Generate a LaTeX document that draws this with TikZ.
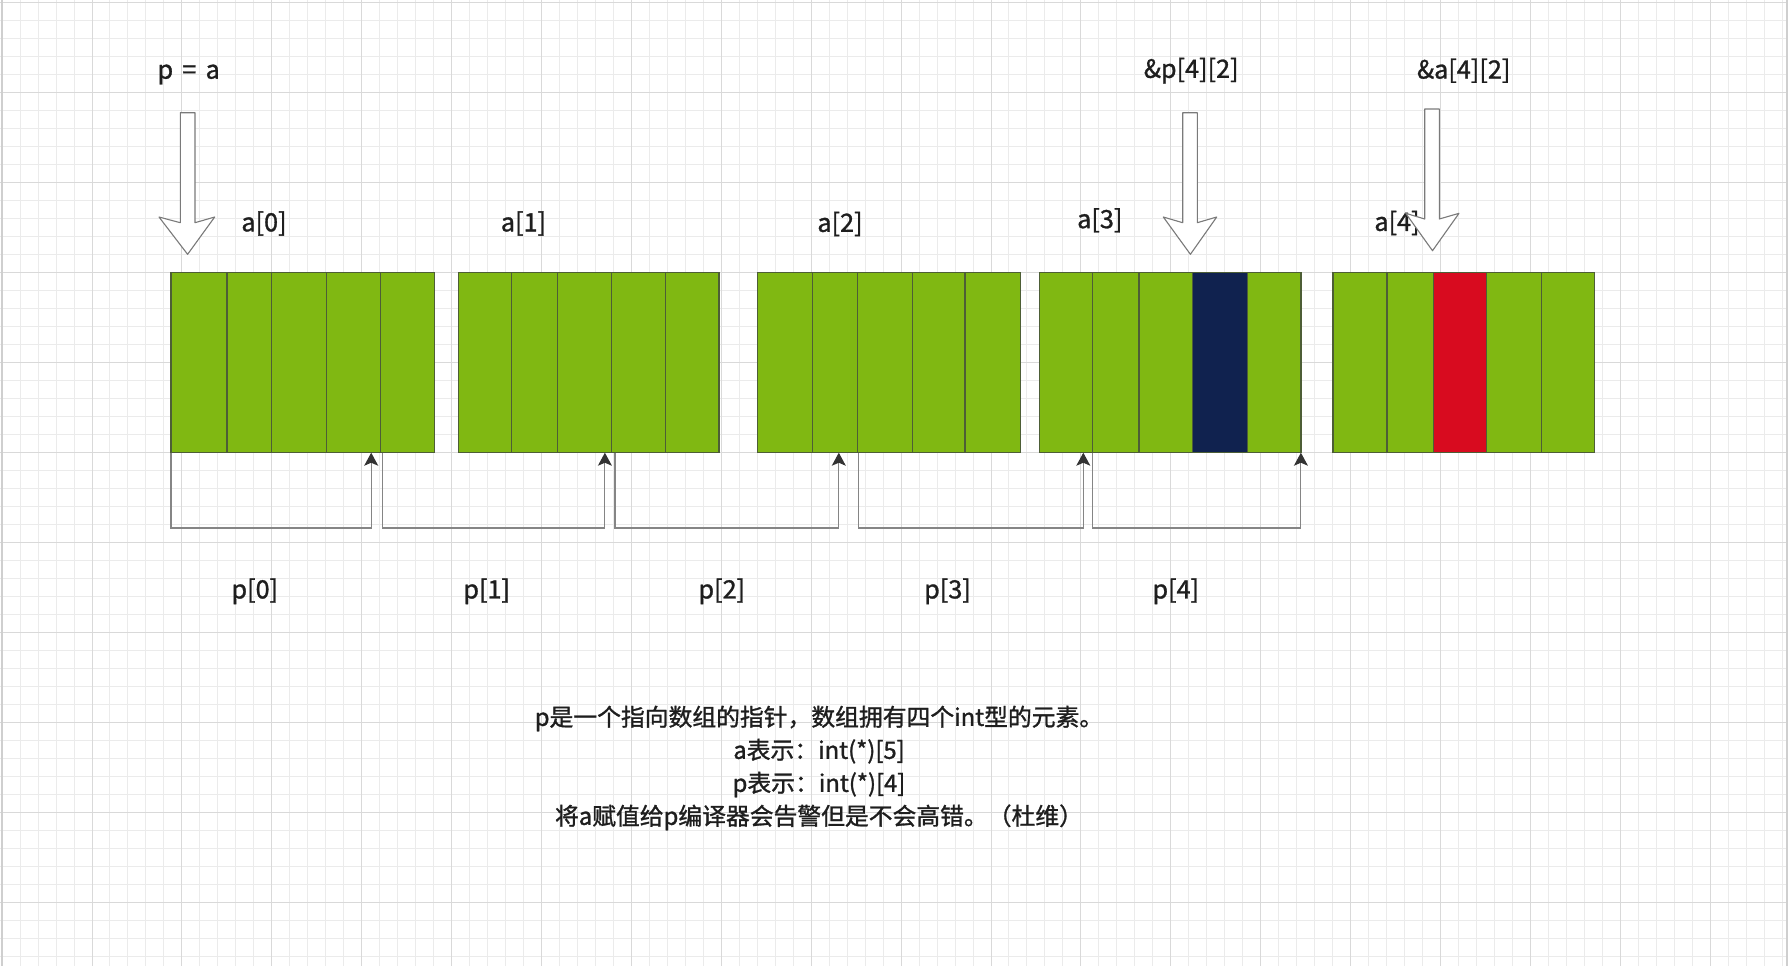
\documentclass[tikz,border=0pt]{standalone}
\usepackage{fontspec}
\setmainfont{Noto Sans CJK SC}[FakeBold=1.2]
\usetikzlibrary{arrows.meta}
\definecolor{cellgreen}{HTML}{80B812}
\definecolor{cellline}{HTML}{4D5E36}
\definecolor{navycell}{HTML}{10224F}
\definecolor{redcell}{HTML}{D80B1F}
\definecolor{gridminor}{HTML}{EBEBEB}
\definecolor{gridmajor}{HTML}{D9D9D9}
\definecolor{gridborder}{HTML}{CFCFCF}
\definecolor{connc}{HTML}{858585}
\definecolor{tipc}{HTML}{333333}
\definecolor{txt}{HTML}{1E1E1E}
\definecolor{barrowc}{HTML}{7A7A7A}
\tikzset{
  cellbox/.style={draw=cellline, line width=0.6pt, fill=cellgreen, minimum height=90.1pt,
    inner sep=0pt, outer sep=0pt, anchor=north west},
  lbl/.style={font=\fontsize{12.6}{15}\selectfont, text=txt, inner sep=0pt},
  notetext/.style={font=\fontsize{11.9}{16.5}\selectfont, text=txt, inner sep=0pt, align=center},
  conn/.style={draw=connc, line width=0.55pt, -{Stealth[length=6.5pt,width=7pt,inset=1.5pt,color=tipc]}},
  barrow/.style={draw=barrowc, fill=white, line width=0.55pt, line join=round},
  gminor/.style={draw=gridminor, line width=0.5pt},
  gmajor/.style={draw=gridmajor, line width=0.5pt}
}
\newcommand\mkcell[4]{\node[cellbox, fill=#4, minimum width={(#3-#2)*0.5pt}] (#1) at (#2,272.5) {};}
\begin{document}
\begin{tikzpicture}[x=0.5pt,y=-0.5pt]
\useasboundingbox (0,0) rectangle (1788,966);
\fill[white] (0,0) rectangle (1788,966);
% grid
\foreach \i in {0,...,99} {\pgfmathsetmacro\gx{2.1+\i*17.98}\draw[gminor] (\gx,0) -- (\gx,966);}
\foreach \i in {0,...,53} {\pgfmathsetmacro\gy{2+\i*18}\draw[gminor] (0,\gy) -- (1788,\gy);}
\foreach \i in {0,...,19} {\pgfmathsetmacro\gx{2.1+\i*89.9}\draw[gmajor] (\gx,0) -- (\gx,966);}
\foreach \i in {0,...,10} {\pgfmathsetmacro\gy{2+\i*90}\draw[gmajor] (0,\gy) -- (1788,\gy);}
\draw[draw=gridborder, line width=0.8pt] (2,0) -- (2,966);
\draw[draw=gridborder, line width=0.8pt] (1786.7,0) -- (1786.7,966);

% block a[0]
\mkcell{a0c1}{171}{226.9}{cellgreen}
\mkcell{a0c2}{226.9}{280.1}{cellgreen}
\mkcell{a0c3}{271.3}{326.8}{cellgreen}
\mkcell{a0c4}{326.8}{380.5}{cellgreen}
\mkcell{a0c5}{380.5}{434.5}{cellgreen}
% block a[1]
\mkcell{a1c1}{458.4}{511.8}{cellgreen}
\mkcell{a1c2}{511.8}{567.0}{cellgreen}
\mkcell{a1c3}{557.8}{611.5}{cellgreen}
\mkcell{a1c4}{611.5}{665.6}{cellgreen}
\mkcell{a1c5}{665.6}{719.0}{cellgreen}
% block a[2]
\mkcell{a2c1}{757.3}{812.4}{cellgreen}
\mkcell{a2c2}{812.4}{866.3}{cellgreen}
\mkcell{a2c3}{857.7}{912.8}{cellgreen}
\mkcell{a2c4}{912.8}{965.0}{cellgreen}
\mkcell{a2c5}{965.0}{1020.8}{cellgreen}
% block a[3]
\mkcell{a3c1}{1039.2}{1092.5}{cellgreen}
\mkcell{a3c2}{1092.5}{1146.5}{cellgreen}
\mkcell{a3c3}{1139.0}{1192.4}{cellgreen}
\mkcell{a3c4}{1192.4}{1247.5}{navycell}
\mkcell{a3c5}{1247.5}{1300.9}{cellgreen}
% block a[4]
\mkcell{a4c1}{1333.0}{1386.9}{cellgreen}
\mkcell{a4c2}{1386.9}{1440.3}{cellgreen}
\mkcell{a4c3}{1433.5}{1486.3}{redcell}
\mkcell{a4c4}{1486.3}{1541.4}{cellgreen}
\mkcell{a4c5}{1541.4}{1594.8}{cellgreen}

% connectors
\coordinate (base) at (0,528);
\coordinate (s1) at (171,452.7);   \coordinate (t1) at (371.2,452.7);
\coordinate (s2) at (382.6,452.7); \coordinate (t2) at (604.9,452.7);
\coordinate (s3) at (615.0,452.7); \coordinate (t3) at (838.8,452.7);
\coordinate (s4) at (858.9,452.7); \coordinate (t4) at (1083.3,452.7);
\coordinate (s5) at (1092.5,452.7);\coordinate (t5) at (1300.9,452.7);
\draw[conn] (s1) -- (s1 |- base) -| (t1);
\draw[conn] (s2) -- (s2 |- base) -| (t2);
\draw[conn] (s3) -- (s3 |- base) -| (t3);
\draw[conn] (s4) -- (s4 |- base) -| (t4);
\draw[conn] (s5) -- (s5 |- base) -| (t5);

% labels
\node[lbl] (lpa) at (188.7,74.5) {p\ \kern1.8pt=\kern1.8pt\ a};
\node[lbl] (lpp) at (1191.2,70.7) {\&p[4][2]};
\node[lbl] (lap) at (1463.7,70.7) {\&a[4][2]};
\node[lbl] (la0) at (264,223.5) {a[0]};
\node[lbl] (la1) at (523.5,223.5) {a[1]};
\node[lbl] (la2) at (840,224) {a[2]};
\node[lbl] (la3) at (1099.8,220.3) {a[3]};
\node[lbl] (la4) at (1397,223) {a[4]};
\node[lbl] (lp0) at (254.8,591.3) {p[0]};
\node[lbl] (lp1) at (486.7,591.3) {p[1]};
\node[lbl] (lp2) at (721.8,591.3) {p[2]};
\node[lbl] (lp3) at (947.5,591.3) {p[3]};
\node[lbl] (lp4) at (1175.8,591.3) {p[4]};

% big block arrows
\draw[barrow] (180.3,112.7) -- (195,112.7) -- (195,222.7) -- (214.7,217) -- (187.6,254.3)
  -- (159,217) -- (180.3,222.7) -- cycle;
\draw[barrow] (1182.7,112.7) -- (1197.3,112.7) -- (1197.3,222.7) -- (1216.7,217) -- (1190.4,254.3)
  -- (1163.3,217) -- (1182.7,222.7) -- cycle;
\draw[barrow] (1424.7,109) -- (1439.3,109) -- (1439.3,219) -- (1459,213.3) -- (1432.5,250.7)
  -- (1405.7,213.3) -- (1424.7,219) -- cycle;

% note
\node[notetext] (note) at (819,768) {p是一个指向数组的指针，数组拥有四个int型的元素。\\
a表示：int(*)[5]\\
p表示：int(*)[4]\\
将a赋值给p编译器会告警但是不会高错。（杜维）};
\end{tikzpicture}
\end{document}
